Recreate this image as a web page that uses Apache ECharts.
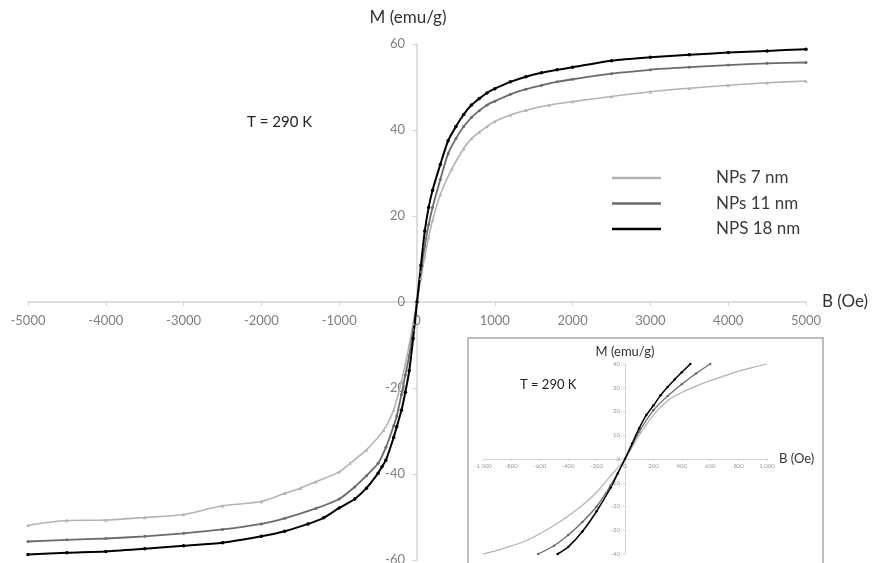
<!DOCTYPE html>
<html>
<head>
<meta charset="utf-8">
<script src="https://cdn.jsdelivr.net/npm/echarts@6/dist/echarts.min.js"></script>
<style>
html,body{margin:0;padding:0;background:#fff;}
#chart{width:872px;height:563px;}
</style>
</head>
<body>
<div id="chart"></div>
<script>
// ---- data (B in Oe, M in emu/g) ----
const seriesNames = ['NPs 7 nm', 'NPs 11 nm', 'NPS 18 nm'];
const xTicksMain = [-5000, 5000, 1000];
const yTicksMain = [-60, 60, 20];
const xTicksInset = [-1000, 1000, 200];
const yTicksInset = [-40, 40, 10];

const np7 = [[-5000,-51.9],[-4500,-50.8],[-4000,-50.7],[-3500,-50.1],[-3000,-49.4],[-2500,-47.4],[-2000,-46.4],[-1700,-44.5],[-1500,-43.3],[-1300,-41.8],[-1000,-39.5],[-860,-37.5],[-650,-34.4],[-430,-29.8],[-300,-25.1],[-200,-18.5],[-150,-14.5],[-100,-10],[-50,-5],[0,0],[50,5.5],[100,10.5],[150,15],[200,19],[300,25],[450,31],[600,35.7],[700,38],[800,39.5],[900,40.8],[1000,42],[1200,43.5],[1400,44.6],[1700,45.8],[2000,46.6],[2500,47.8],[3000,48.9],[3500,49.7],[4000,50.4],[4500,51.0],[5000,51.4]];
const np11 = [[-5000,-55.7],[-4500,-55.3],[-4000,-55.0],[-3500,-54.5],[-3000,-53.8],[-2500,-52.9],[-2000,-51.6],[-1700,-50.3],[-1300,-48.0],[-1000,-45.8],[-800,-43.0],[-650,-40.4],[-500,-37.5],[-400,-33.8],[-300,-28.8],[-260,-26.5],[-200,-21.5],[-150,-17.0],[-100,-12.5],[-50,-6.5],[0,0],[50,7],[100,13],[150,18],[200,22],[300,28.5],[400,34.5],[500,38],[600,40.8],[700,42.9],[800,44.5],[900,45.8],[1000,46.7],[1200,48.3],[1400,49.5],[1600,50.4],[1800,51.2],[2000,51.8],[2500,53.1],[3000,54.0],[3500,54.6],[4000,55.1],[4500,55.5],[5000,55.7]];
const np18 = [[-5000,-58.7],[-4500,-58.3],[-4000,-58.0],[-3500,-57.4],[-3000,-56.7],[-2500,-56.0],[-2000,-54.5],[-1700,-53.3],[-1400,-51.6],[-1200,-50.2],[-1000,-47.9],[-800,-45.8],[-650,-43.3],[-500,-39.8],[-450,-38.3],[-400,-36.8],[-300,-31.5],[-260,-29.0],[-200,-25.2],[-150,-21.0],[-100,-16.0],[-50,-8.5],[0,0],[50,8.5],[100,16.5],[150,22],[200,26],[300,32],[400,37.5],[500,40.8],[600,43.6],[700,45.8],[800,47.3],[900,48.6],[1000,49.6],[1200,51.2],[1400,52.4],[1600,53.3],[1800,54.0],[2000,54.6],[2500,56.1],[3000,56.9],[3500,57.5],[4000,58.0],[4500,58.4],[5000,58.8]];

const in7 = [[-1000,-40],[-900,-38.5],[-800,-36.6],[-700,-34.5],[-600,-31.5],[-500,-28],[-400,-24],[-300,-19.5],[-200,-14],[-100,-7],[0,0],[100,10],[200,18.5],[300,24.5],[400,28],[500,30.7],[600,33],[700,35],[800,37],[900,38.6],[1000,40]];
const in11 = [[-612,-40],[-500,-36.5],[-400,-32],[-300,-26.5],[-200,-20],[-100,-11],[0,0],[100,11.5],[200,20.5],[300,26.5],[400,31.5],[500,36],[600,40]];
const in18 = [[-475,-40],[-400,-37],[-300,-30.5],[-200,-22],[-100,-12],[-50,-6],[0,0],[50,6.5],[100,13],[150,18.5],[200,22.5],[250,26.8],[300,30.3],[350,33.5],[400,36.5],[460,40]];

// ---- layout / styles ----
const colors = ['#b3b3b3', '#6b6b6b', '#000000'];
const FONT = 'Lato, "Open Sans", sans-serif';
const axisGray = '#d4d4d4';
const labelGray = '#7f7f7f';

const mainGrid = {left: 28, top: 44, width: 778, height: 516};
const insetGrid = {left: 483, top: 364, width: 284, height: 190};

// offsets that put each axis through the other axis' zero
function zeroOffsetX(g, yr) { return -g.height * (0 - yr[0]) / (yr[1] - yr[0]); }
function zeroOffsetY(g, xr) { return -g.width * (0 - xr[0]) / (xr[1] - xr[0]); }

function fmtPlain(v) { return String(v); }
function fmtThousands(v) {
  const s = String(Math.abs(v));
  const t = s.length > 3 ? s.slice(0, s.length - 3) + ' ' + s.slice(-3) : s;
  return (v < 0 ? '-' : '') + t;
}

const chart = echarts.init(document.getElementById('chart'), null, {renderer: 'canvas'});

function mainSeries(name, data, color, symbol, size, width) {
  return {
    name: name, type: 'line', xAxisIndex: 0, yAxisIndex: 0, data: data,
    smooth: 0.25,
    symbol: symbol, symbolSize: size, showSymbol: true,
    itemStyle: {color: color}, lineStyle: {color: color, width: width},
    z: 3, animation: false
  };
}
function insetSeries(name, data, color, symbol, size, width) {
  return {
    name: name + ' ', type: 'line', xAxisIndex: 1, yAxisIndex: 1, data: data,
    smooth: 0.3,
    symbol: symbol, symbolSize: size, showSymbol: symbol !== 'none',
    itemStyle: {color: color}, lineStyle: {color: color, width: width},
    z: 6, animation: false
  };
}

const option = {
  backgroundColor: '#ffffff',
  animation: false,
  textStyle: {fontFamily: FONT},
  grid: [
    Object.assign({containLabel: false, outerBoundsMode: 'none'}, mainGrid),
    Object.assign({containLabel: false, outerBoundsMode: 'none'}, insetGrid)
  ],
  legend: {
    data: seriesNames,
    orient: 'vertical',
    left: 607, top: 162,
    padding: 5,
    icon: 'rect', itemWidth: 49, itemHeight: 2.5, itemGap: 3.5,
    textStyle: {fontFamily: FONT, fontSize: 17, color: '#3a3a3a', padding: [0, 0, 0, 50], lineHeight: 22}
  },
  xAxis: [
    {
      type: 'value', gridIndex: 0, min: xTicksMain[0], max: xTicksMain[1], interval: xTicksMain[2],
      position: 'bottom', offset: zeroOffsetX(mainGrid, yTicksMain),
      name: 'B (Oe)', nameLocation: 'end', nameGap: 16,
      nameTextStyle: {fontFamily: FONT, fontSize: 17, color: '#333', padding: [10, 0, 0, 0]},
      axisLine: {onZero: false, lineStyle: {color: axisGray, width: 1.5}},
      axisTick: {show: true, inside: false, length: 4, lineStyle: {color: axisGray}},
      axisLabel: {fontFamily: FONT, fontSize: 13, color: labelGray, margin: 12, formatter: fmtPlain},
      splitLine: {show: false}
    },
    {
      type: 'value', gridIndex: 1, min: xTicksInset[0], max: xTicksInset[1], interval: xTicksInset[2],
      position: 'bottom', offset: zeroOffsetX(insetGrid, yTicksInset),
      name: 'B (Oe)', nameLocation: 'end', nameGap: 12,
      nameTextStyle: {fontFamily: FONT, fontSize: 13, color: '#333'},
      axisLine: {onZero: false, lineStyle: {color: axisGray, width: 1}},
      axisTick: {show: true, length: 2, lineStyle: {color: axisGray}},
      axisLabel: {fontFamily: FONT, fontSize: 6, color: '#999', margin: 4, formatter: fmtThousands},
      splitLine: {show: false}, z: 5
    }
  ],
  yAxis: [
    {
      type: 'value', gridIndex: 0, min: yTicksMain[0], max: yTicksMain[1], interval: yTicksMain[2],
      position: 'left', offset: zeroOffsetY(mainGrid, xTicksMain),
      name: 'M (emu/g)', nameLocation: 'end', nameGap: 18,
      nameTextStyle: {fontFamily: FONT, fontSize: 17, color: '#333', padding: [0, 18, 0, 0]},
      axisLine: {onZero: false, lineStyle: {color: axisGray, width: 1.5}},
      axisTick: {show: true, inside: false, length: 5, lineStyle: {color: axisGray}},
      axisLabel: {fontFamily: FONT, fontSize: 13, color: labelGray, margin: 12, formatter: fmtPlain},
      splitLine: {show: false}
    },
    {
      type: 'value', gridIndex: 1, min: yTicksInset[0], max: yTicksInset[1], interval: yTicksInset[2],
      position: 'left', offset: zeroOffsetY(insetGrid, xTicksInset),
      name: 'M (emu/g)', nameLocation: 'end', nameGap: 6,
      nameTextStyle: {fontFamily: FONT, fontSize: 13, color: '#333'},
      axisLine: {onZero: false, lineStyle: {color: axisGray, width: 1}},
      axisTick: {show: true, length: 2, lineStyle: {color: axisGray}},
      axisLabel: {fontFamily: FONT, fontSize: 6, color: '#999', margin: 5, formatter: fmtPlain},
      splitLine: {show: false}, z: 5
    }
  ],
  graphic: [
    {type: 'text', left: 247, top: 115, z: 10,
     style: {text: 'T = 290 K', fontFamily: FONT, fontSize: 15, fill: '#222'}},
    {type: 'rect', shape: {x: 468, y: 338, width: 355, height: 240}, z: 1,
     style: {fill: 'rgba(255,255,255,0)', stroke: '#a8a8a8', lineWidth: 1.5}},
    {type: 'text', left: 520, top: 378, z: 10,
     style: {text: 'T = 290 K', fontFamily: FONT, fontSize: 13, fill: '#222'}}
  ],
  series: [
    mainSeries(seriesNames[0], np7, colors[0], 'triangle', 3.5, 1.6),
    mainSeries(seriesNames[1], np11, colors[1], 'circle', 3, 1.8),
    mainSeries(seriesNames[2], np18, colors[2], 'circle', 3.5, 2),
    insetSeries(seriesNames[0], in7, colors[0], 'none', 0, 1.2),
    insetSeries(seriesNames[1], in11, colors[1], 'circle', 2.5, 1.3),
    insetSeries(seriesNames[2], in18, colors[2], 'circle', 2.5, 1.5)
  ]
};
chart.setOption(option);
</script>
</body>
</html>
